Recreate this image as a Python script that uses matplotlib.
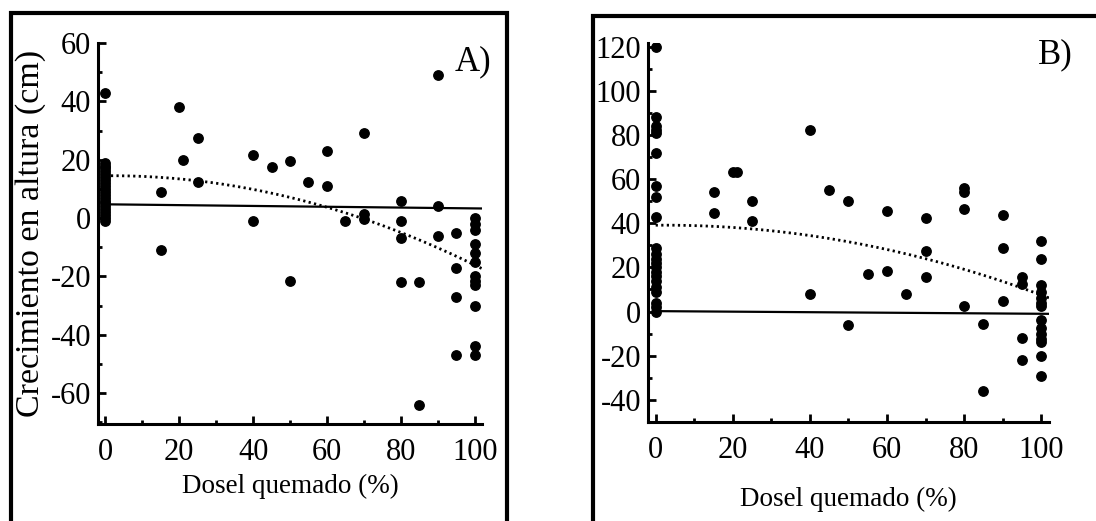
import numpy as np
import matplotlib.pyplot as plt
from matplotlib.lines import Line2D

plt.rcParams['font.family'] = ['Liberation Serif', 'DejaVu Serif']
plt.rcParams['axes.unicode_minus'] = False

# Panel A data (dosel quemado %, crecimiento cm)
xA = [0]*22 + [15, 15, 20, 21, 25, 25, 40, 40, 45, 50, 50, 55, 60, 60, 65,
               70, 70, 70, 80, 80, 80, 80, 85, 85, 90, 90, 90, 95, 95, 95, 95] + [100]*12
yA = [43, 19, 18, 17, 16, 15, 14, 13, 12, 11, 10, 9, 8, 7, 6, 5, 4, 3, 2, 1, 0, -1,
      9, -11, 38, 20, 27.5, 12.5, 21.5, -1, 17.5, 19.5, -21.5, 12.5, 23, 11, -1,
      29, 1.5, -0.5, 6, -1, -7, -22, -22, -64, 49, 4, -6, -5, -17, -27, -47,
      0, -2, -4, -9, -12, -15, -20, -21.5, -23, -30, -44, -47]

# Panel B data
xB = [0]*22 + [15, 15, 20, 21, 25, 25, 40, 40, 45, 50, 50, 55, 60, 60, 65,
               70, 70, 70, 80, 80, 80, 80, 85, 85, 90, 90, 90, 95, 95, 95, 95] + [100]*14
yB = [120, 88, 84, 82, 81, 72, 57, 52, 43, 29, 26, 24, 22, 20, 18, 16, 14, 11, 9, 4, 2, 0,
      54, 44.5, 63, 63, 50, 41, 82, 8, 55, 50, -6, 17, 45.5, 18.5, 8,
      42.5, 27.5, 15.5, 56, 54, 46.5, 2.5, -5.5, -36, 43.5, 29, 5, 15.5, 12.5, -12, -22,
      32, 24, 12, 9, 6, 4, 2.5, -4, -7.5, -10, -12.5, -14, -20, -29]

# fitted lines (intercept, slope, quad)
linA = [4.7, -0.014]
quadA = [14.5, 0.009, -0.00315]
linB = [0.2, -0.012]
quadB = [39.1, 0.0157, -0.003317]

fig = plt.figure(figsize=(10.96, 5.21), dpi=100)

def setup(ax, ylim, yticks):
    ax.set_xlim(-2, 102)
    ax.set_ylim(ylim)
    ax.set_xticks([0, 20, 40, 60, 80, 100])
    ax.set_xticks(np.arange(10, 100, 20), minor=True)
    ax.set_yticks(yticks)
    ax.set_yticks(np.arange(yticks[0] - 10, yticks[-1] + 1, 20), minor=True)
    for s in ['top', 'right']:
        ax.spines[s].set_visible(False)
    for s in ['left', 'bottom']:
        ax.spines[s].set_linewidth(2.2)
    ax.tick_params(which='major', direction='in', length=6, width=2, labelsize=22, pad=5)
    ax.tick_params(which='minor', direction='in', length=3, width=2)
    ax.tick_params(axis='x', pad=10)

xs = np.linspace(0, 102, 200)

axA = fig.add_axes([0.0894, 0.1862, 0.3504, 0.7313])
setup(axA, (-70.6, 60), [-60, -40, -20, 0, 20, 40, 60])
axA.scatter(xA, yA, s=46, color='black', zorder=3)
axA.plot(xs, linA[0] + linA[1]*xs, color='black', lw=1.6)
axA.plot(xs, quadA[0] + quadA[1]*xs + quadA[2]*xs**2, color='black', lw=2, linestyle=(0, (0.8, 1.2)))
axA.set_xlabel('Dosel quemado (%)', fontsize=19.5)
axA.xaxis.set_label_coords(0.5, -0.13)
axA.set_ylabel('Crecimiento en altura (cm)', fontsize=24.5)
axA.yaxis.set_label_coords(-0.135, 0.5)
axA.text(0.977, 0.95, 'A)', transform=axA.transAxes, fontsize=25, ha='center', va='center')

axB = fig.add_axes([0.5912, 0.190, 0.3659, 0.7275])
setup(axB, (-40.4, 121.6), [-40, -20, 0, 20, 40, 60, 80, 100, 120])
axB.scatter(xB, yB, s=46, color='black', zorder=3)
axB.plot(xs, linB[0] + linB[1]*xs, color='black', lw=1.6)
axB.plot(xs, quadB[0] + quadB[1]*xs + quadB[2]*xs**2, color='black', lw=2, linestyle=(0, (0.8, 1.2)))
axB.set_xlabel('Dosel quemado (%)', fontsize=19.5)
axB.xaxis.set_label_coords(0.5, -0.17)
axB.text(1.015, 0.968, 'B)', transform=axB.transAxes, fontsize=25, ha='center', va='center', clip_on=False)

# outer frames round each panel
W, H = 1096, 521
def frame(x0, y0, x1, y1):
    fig.add_artist(Line2D([x0/W, x0/W, x1/W, x1/W], [1 - y1/H, 1 - y0/H, 1 - y0/H, 1 - y1/H],
                          color='black', lw=3, solid_joinstyle='miter'))
frame(11, 13, 507, 530)
frame(593, 16, 1110, 530)

fig.savefig('out.png', dpi=100)
